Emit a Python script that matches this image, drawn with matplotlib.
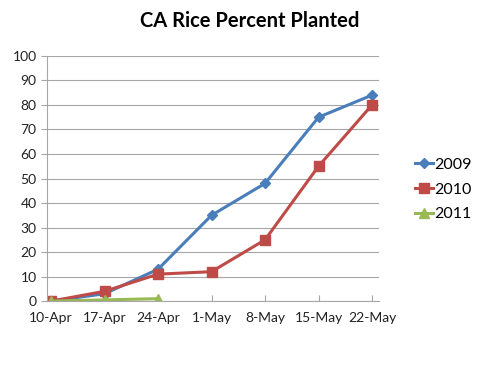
import numpy as np
import matplotlib
matplotlib.use("Agg")
import matplotlib.pyplot as plt

plt.rcParams['font.family'] = ['Lato', 'DejaVu Sans']

weeks = ["10-Apr", "17-Apr", "24-Apr", "1-May", "8-May", "15-May", "22-May"]
y2009 = [0, 3, 13, 35, 48, 75, 84]
y2010 = [0, 4, 11, 12, 25, 55, 80]
y2011 = [0, 0.5, 1]

fig = plt.figure(figsize=(5, 3.75), dpi=100)
ax = fig.add_axes([0.094, 0.197, 0.664, 0.654])

x = np.arange(len(weeks))
ax.plot(x, y2009, color="#4A7EBB", lw=2.2, marker="D", ms=5, label="2009")
ax.plot(x, y2010, color="#BE4B48", lw=2.2, marker="s", ms=6.5, label="2010")
ax.plot(x[:len(y2011)], y2011, color="#98B954", lw=2.2, marker="^", ms=7, label="2011")

ax.set_xlim(-0.075, 6.13)
ax.set_ylim(0, 100)
ax.set_yticks(range(0, 101, 10))
ax.set_xticks(x)
ax.set_xticklabels(weeks)
ax.grid(axis="y", color="#A6A6A6", lw=0.8)
ax.set_axisbelow(True)
for s in ["top", "right"]:
    ax.spines[s].set_visible(False)
ax.spines["left"].set_color("#A6A6A6")
ax.spines["bottom"].set_color("#A6A6A6")
ax.tick_params(axis="both", colors="#A6A6A6", labelcolor="#222222", labelsize=10, length=4)
ax.tick_params(axis="x", direction="in", pad=8)

fig.text(0.5, 0.945, "CA Rice Percent Planted", ha="center", va="center",
         fontsize=14.5, fontweight="bold")

leg = ax.legend(loc="center left", bbox_to_anchor=(1.065, 0.455), frameon=False,
                fontsize=11.5, handlelength=1.1, handletextpad=0.1, labelspacing=0.66)

fig.savefig("out.png", dpi=100)
